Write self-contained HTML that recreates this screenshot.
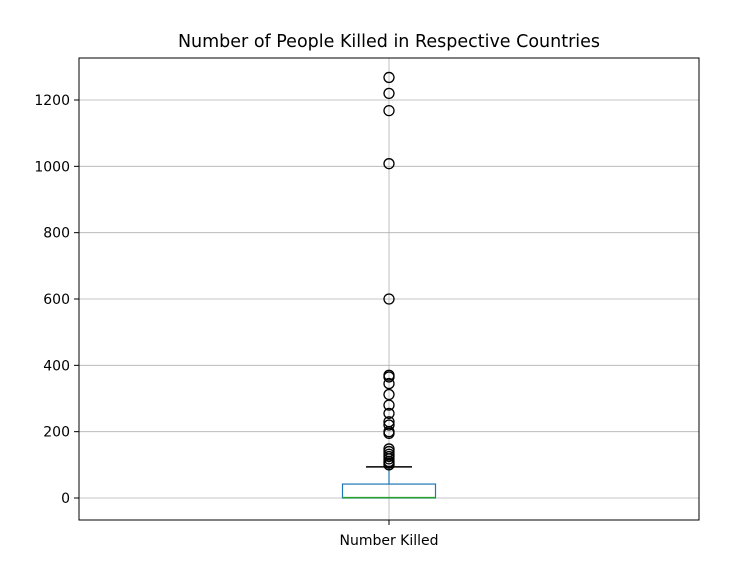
<!DOCTYPE html>
<html><head><meta charset="utf-8"><style>
body{margin:0;background:#fff;font-family:"DejaVu Sans","Liberation Sans",sans-serif}
</style></head><body>
<svg width="755" height="574" xmlns="http://www.w3.org/2000/svg">
<text x="389" y="47" text-anchor="middle" font-size="17.5" fill="#000">Number of People Killed in Respective Countries</text>
<g id="grid"></g>
<g id="marks"></g>
<rect x="79" y="58" width="620" height="462" fill="none" stroke="#000" stroke-width="1"/>
<g id="yaxis"></g>
<text x="389" y="545" text-anchor="middle" font-size="14">Number Killed</text>
<line x1="389" y1="520" x2="389" y2="525" stroke="#000"/>
</svg>
<script>
const categories = ["Number Killed"];
const q1 = [0], median = [1], q3 = [42], whiskerLow = [0], whiskerHigh = [94];
const outliers = [1268,1220,1168,1008,600,370,365,345,312,280,255,230,220,200,195,148,140,132,125,118,110,105,100];
const yTicks = [0,200,400,600,800,1000,1200];
const NS="http://www.w3.org/2000/svg";
const y = v => 498 - v*(398/1200);
const xc = 389, bw = 93;
function mk(parent,tag,attrs){const e=document.createElementNS(NS,tag);for(const k in attrs)e.setAttribute(k,attrs[k]);document.getElementById(parent).appendChild(e);return e;}
yTicks.forEach(t=>{
  let g=mk('grid','line',{x1:79,x2:699,y1:y(t),y2:y(t),stroke:'#b0b0b0','stroke-width':0.8});
  
  
  let tk=mk('yaxis','line',{x1:74,x2:79,y1:y(t),y2:y(t),stroke:'#000'});
  
  
  let tx=mk('yaxis','text',{x:70,y:y(t)+5,'text-anchor':'end','font-size':'14'});
  tx.textContent=t;
  
  
});
let vg=mk('grid','line',{x1:xc,x2:xc,y1:58,y2:520,stroke:'#b0b0b0','stroke-width':0.8});


categories.forEach((c,i)=>{
  let w=mk('marks','line',{x1:xc,x2:xc,y1:y(q3[i]),y2:y(whiskerHigh[i]),stroke:'#1f77b4','stroke-width':1.2});
  
  
  let cap=mk('marks','line',{x1:xc-23,x2:xc+23,y1:y(whiskerHigh[i]),y2:y(whiskerHigh[i]),stroke:'#000','stroke-width':1.5});
  
  
  let b=mk('marks','rect',{x:xc-bw/2,y:y(q3[i]),width:bw,height:y(q1[i])-y(q3[i]),fill:'none',stroke:'#1f77b4','stroke-width':1.2});
  
  
  let m=mk('marks','line',{x1:xc-bw/2,x2:xc+bw/2,y1:y(median[i]),y2:y(median[i]),stroke:'#2ca02c','stroke-width':1.5});
  
  
});
outliers.forEach(v=>{
  let o=mk('marks','circle',{cx:xc,cy:y(v),r:5,fill:'none',stroke:'#000','stroke-width':1.3});
  
  
});
</script>
</body></html>
